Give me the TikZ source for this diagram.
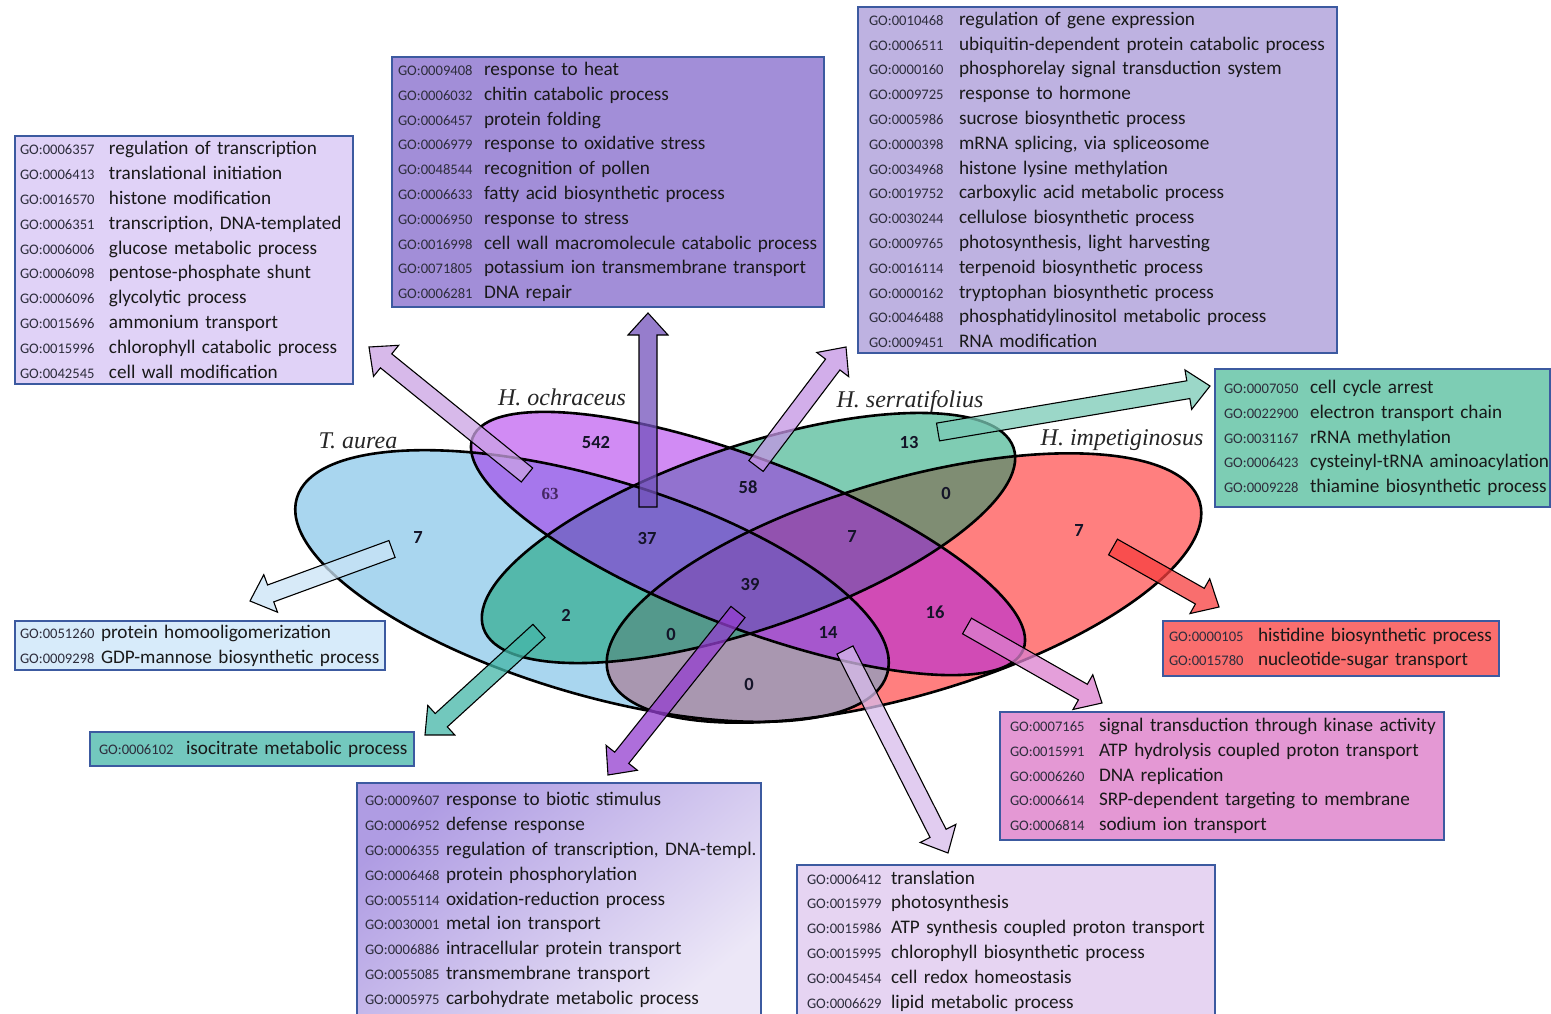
\documentclass[tikz,border=0pt]{standalone}
\usepackage{fontspec}
\setmainfont{Carlito}
\newfontfamily\labfont{Liberation Serif}
\usetikzlibrary{calc}

\definecolor{redE}{RGB}{255,0,0}
\definecolor{blueE}{RGB}{85,175,225}
\definecolor{greenE}{RGB}{0,155,105}
\definecolor{purpleE}{RGB}{165,25,235}
\definecolor{boxline}{RGB}{60,90,160}
\definecolor{txt}{RGB}{25,25,25}
\definecolor{gotxt}{RGB}{45,45,60}
\definecolor{fA}{RGB}{224,210,247}
\definecolor{fB}{RGB}{162,142,216}
\definecolor{fC}{RGB}{190,178,225}
\definecolor{fD}{RGB}{125,205,180}
\definecolor{fE}{RGB}{250,110,110}
\definecolor{fF}{RGB}{228,152,212}
\definecolor{fG}{RGB}{230,212,242}
\definecolor{hTop}{RGB}{175,156,227}
\definecolor{hBot}{RGB}{236,231,247}
\definecolor{fI}{RGB}{215,235,250}
\definecolor{fJ}{RGB}{115,200,190}
\definecolor{ar1}{RGB}{202,162,228}
\definecolor{ar2}{RGB}{115,82,188}
\definecolor{ar3}{RGB}{195,148,228}
\definecolor{ar4}{RGB}{122,202,182}
\definecolor{ar5}{RGB}{202,228,246}
\definecolor{ar6}{RGB}{68,182,168}
\definecolor{ar7}{RGB}{148,62,208}
\definecolor{ar8}{RGB}{215,188,235}
\definecolor{ar9}{RGB}{219,128,206}
\definecolor{ar10}{RGB}{248,62,62}
\definecolor{numc}{RGB}{20,20,40}

\newcommand\descfont{\fontsize{19.2}{24.8}\selectfont}
\newcommand\gorow[3]{\mbox{\makebox[#1pt][l]{\fontsize{14.6}{17}\selectfont\color{gotxt}GO:#2}#3}}

\newcommand\barrow[3]{%
  \coordinate (#1n) at ($(#2)!22pt!(#1)$);
  \draw[blockarrow, fill=#3]
    ($(#1)!9pt!90:(#2)$) -- ($(#1n)!9pt!90:(#2)$) -- ($(#1n)!20pt!90:(#2)$) --
    (#2) -- ($(#1n)!20pt!-90:(#2)$) -- ($(#1n)!9pt!-90:(#2)$) --
    ($(#1)!9pt!-90:(#2)$) -- cycle;}

\begin{document}
\begin{tikzpicture}[x=1pt,y=-1pt,
  vennline/.style={draw=black, line width=2.6pt},
  vennfill/.style={fill opacity=.5},
  num/.style={font=\fontsize{18.5}{20}\selectfont\bfseries, text=numc, inner sep=0pt},
  species/.style={font=\labfont\itshape\fontsize{24}{26}\selectfont, text=black!85, inner sep=0pt},
  blockarrow/.style={draw=black, line width=1.1pt, fill opacity=.75, line join=miter},
  gobox/.style={draw=boxline, line width=2pt, anchor=north west, inner ysep=0pt,
    outer sep=0pt, align=left, text=txt, font=\descfont}]

\useasboundingbox (0,0) rectangle (1551,1014);
\fill[white] (0,0) rectangle (1551,1014);

% Venn fills
\fill[vennfill, fill=redE, rotate around={16.2:(904,588)}] (904,588) ellipse [x radius=308pt, y radius=108pt];
\fill[vennfill, fill=blueE, rotate around={-16.6:(592,586)}] (592,586) ellipse [x radius=308pt, y radius=108pt];
\fill[vennfill, fill=greenE, rotate around={18.8:(748.5,538)}] (748.5,538) ellipse [x radius=280pt, y radius=91.5pt];
\fill[vennfill, fill=purpleE, rotate around={-21:(748,543.5)}] (748,543.5) ellipse [x radius=295pt, y radius=84pt];
% Venn outlines
\draw[vennline, rotate around={16.2:(904,588)}] (904,588) ellipse [x radius=308pt, y radius=108pt];
\draw[vennline, rotate around={-16.6:(592,586)}] (592,586) ellipse [x radius=308pt, y radius=108pt];
\draw[vennline, rotate around={18.8:(748.5,538)}] (748.5,538) ellipse [x radius=280pt, y radius=91.5pt];
\draw[vennline, rotate around={-21:(748,543.5)}] (748,543.5) ellipse [x radius=295pt, y radius=84pt];

% species labels
\node[species] (sTa) at (358,441) {T. aurea};
\node[species] (sHo) at (562,397) {H. ochraceus};
\node[species] (sHs) at (910,402) {H. serratifolius};
\node[species] (sHi) at (1122,440) {H. impetiginosus};

% counts
\node[num] (n542) at (596,442) {542};
\node[num, font=\labfont\bfseries\fontsize{17}{18}\selectfont, text={rgb,255:red,70;green,40;blue,100}] (n63) at (550,494) {63};
\node[num] (n7a) at (418,537) {7};
\node[num] (n37) at (647,538) {37};
\node[num] (n58) at (748,487) {58};
\node[num] (n13) at (909,442) {13};
\node[num] (n0a) at (946,493) {0};
\node[num] (n7b) at (852,536) {7};
\node[num] (n39) at (750,584) {39};
\node[num] (n7c) at (1079,530) {7};
\node[num] (n2) at (566,615) {2};
\node[num] (n0b) at (671,634) {0};
\node[num] (n14) at (828,632) {14};
\node[num] (n16) at (935,612) {16};
\node[num] (n0c) at (749,684) {0};

% arrow end points
\coordinate (a1t) at (527,475);  \coordinate (a1h) at (369,347);
\coordinate (a2t) at (648,507);  \coordinate (a2h) at (648,313);
\coordinate (a3t) at (756,466);  \coordinate (a3h) at (846,347);
\coordinate (a4t) at (938,432);  \coordinate (a4h) at (1210,386);
\coordinate (a5t) at (392,549);  \coordinate (a5h) at (250,601);
\coordinate (a6t) at (539,631);  \coordinate (a6h) at (425,735);
\coordinate (a7t) at (738,612);  \coordinate (a7h) at (608,775);
\coordinate (a8t) at (845,650);  \coordinate (a8h) at (948,853);
\coordinate (a9t) at (967,626);  \coordinate (a9h) at (1102,703);
\coordinate (a10t) at (1113,547); \coordinate (a10h) at (1219,607);

\barrow{a1t}{a1h}{ar1}
\barrow{a2t}{a2h}{ar2}
\barrow{a3t}{a3h}{ar3}
\barrow{a4t}{a4h}{ar4}
\barrow{a5t}{a5h}{ar5}
\barrow{a6t}{a6h}{ar6}
\barrow{a7t}{a7h}{ar7}
\barrow{a8t}{a8h}{ar8}
\barrow{a9t}{a9h}{ar9}
\barrow{a10t}{a10h}{ar10}

% boxes
\node[gobox, fill=fA, inner xsep=5pt, text width=328pt, minimum height=248pt] (bA) at (15,136) {%
\gorow{89}{0006357}{regulation of transcription}\\
\gorow{89}{0006413}{translational initiation}\\
\gorow{89}{0016570}{histone modification}\\
\gorow{89}{0006351}{transcription, DNA-templated}\\
\gorow{89}{0006006}{glucose metabolic process}\\
\gorow{89}{0006098}{pentose-phosphate shunt}\\
\gorow{89}{0006096}{glycolytic process}\\
\gorow{89}{0015696}{ammonium transport}\\
\gorow{89}{0015996}{chlorophyll catabolic process}\\
\gorow{89}{0042545}{cell wall modification}};

\node[gobox, fill=fB, inner xsep=6pt, text width=420pt, minimum height=250pt] (bB) at (392,57) {%
\gorow{86}{0009408}{response to heat}\\
\gorow{86}{0006032}{chitin catabolic process}\\
\gorow{86}{0006457}{protein folding}\\
\gorow{86}{0006979}{response to oxidative stress}\\
\gorow{86}{0048544}{recognition of pollen}\\
\gorow{86}{0006633}{fatty acid biosynthetic process}\\
\gorow{86}{0006950}{response to stress}\\
\gorow{86}{0016998}{cell wall macromolecule catabolic process}\\
\gorow{86}{0071805}{potassium ion transmembrane transport}\\
\gorow{86}{0006281}{DNA repair}};

\node[gobox, fill=fC, inner xsep=11pt, text width=457pt, minimum height=346pt] (bC) at (858,7) {%
\gorow{90}{0010468}{regulation of gene expression}\\
\gorow{90}{0006511}{ubiquitin-dependent protein catabolic process}\\
\gorow{90}{0000160}{phosphorelay signal transduction system}\\
\gorow{90}{0009725}{response to hormone}\\
\gorow{90}{0005986}{sucrose biosynthetic process}\\
\gorow{90}{0000398}{mRNA splicing, via spliceosome}\\
\gorow{90}{0034968}{histone lysine methylation}\\
\gorow{90}{0019752}{carboxylic acid metabolic process}\\
\gorow{90}{0030244}{cellulose biosynthetic process}\\
\gorow{90}{0009765}{photosynthesis, light harvesting}\\
\gorow{90}{0016114}{terpenoid biosynthetic process}\\
\gorow{90}{0000162}{tryptophan biosynthetic process}\\
\gorow{90}{0046488}{phosphatidylinositol metabolic process}\\
\gorow{90}{0009451}{RNA modification}};

\node[gobox, fill=fD, inner xsep=9pt, text width=317pt, minimum height=138pt] (bD) at (1215,369) {%
\gorow{86}{0007050}{cell cycle arrest}\\
\gorow{86}{0022900}{electron transport chain}\\
\gorow{86}{0031167}{rRNA methylation}\\
\gorow{86}{0006423}{cysteinyl-tRNA aminoacylation}\\
\gorow{86}{0009228}{thiamine biosynthetic process}};

\node[gobox, fill=fE, inner xsep=6pt, text width=324pt, minimum height=55pt] (bE) at (1163,621) {%
\gorow{89}{0000105}{histidine biosynthetic process}\\
\gorow{89}{0015780}{nucleotide-sugar transport}};

\node[gobox, fill=fF, inner xsep=10pt, text width=424pt, minimum height=128pt] (bF) at (1000,712) {%
\gorow{89}{0007165}{signal transduction through kinase activity}\\
\gorow{89}{0015991}{ATP hydrolysis coupled proton transport}\\
\gorow{89}{0006260}{DNA replication}\\
\gorow{89}{0006614}{SRP-dependent targeting to membrane}\\
\gorow{89}{0006814}{sodium ion transport}};

\node[gobox, fill=fG, inner xsep=10pt, text width=398pt, minimum height=152pt] (bG) at (797,865) {%
\gorow{84}{0006412}{translation}\\
\gorow{84}{0015979}{photosynthesis}\\
\gorow{84}{0015986}{ATP synthesis coupled proton transport}\\
\gorow{84}{0015995}{chlorophyll biosynthetic process}\\
\gorow{84}{0045454}{cell redox homeostasis}\\
\gorow{84}{0006629}{lipid metabolic process}};

\node[gobox, top color=hTop, bottom color=hBot, shading angle=40, inner xsep=8pt, text width=388pt, minimum height=234pt] (bH) at (357,783) {%
\gorow{81}{0009607}{response to biotic stimulus}\\
\gorow{81}{0006952}{defense response}\\
\gorow{81}{0006355}{regulation of transcription, DNA-templ.}\\
\gorow{81}{0006468}{protein phosphorylation}\\
\gorow{81}{0055114}{oxidation-reduction process}\\
\gorow{81}{0030001}{metal ion transport}\\
\gorow{81}{0006886}{intracellular protein transport}\\
\gorow{81}{0055085}{transmembrane transport}\\
\gorow{81}{0005975}{carbohydrate metabolic process}};

\node[gobox, fill=fI, inner xsep=5pt, text width=360pt, minimum height=49pt] (bI) at (15,621) {%
\gorow{81}{0051260}{protein homooligomerization}\\
\gorow{81}{0009298}{GDP-mannose biosynthetic process}};

\node[gobox, fill=fJ, inner xsep=9pt, text width=306pt, minimum height=34pt] (bJ) at (90,732) {%
\gorow{87}{0006102}{isocitrate metabolic process}};

\end{tikzpicture}
\end{document}
